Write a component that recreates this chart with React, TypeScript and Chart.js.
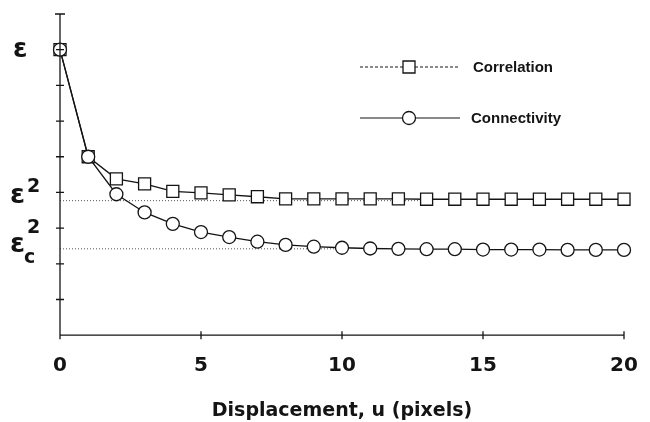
import React, { useEffect, useRef } from "react";
import { Chart, registerables } from "chart.js";

Chart.register(...registerables);

const displacement = [0, 1, 2, 3, 4, 5, 6, 7, 8, 9, 10, 11, 12, 13, 14, 15, 16, 17, 18, 19, 20];
const correlation = [8.0, 5.0, 4.38, 4.24, 4.03, 3.99, 3.93, 3.88, 3.82, 3.82, 3.82, 3.82, 3.82, 3.81, 3.81, 3.81, 3.81, 3.81, 3.81, 3.81, 3.81];
const connectivity = [8.0, 5.0, 3.95, 3.44, 3.12, 2.89, 2.75, 2.62, 2.53, 2.48, 2.45, 2.43, 2.42, 2.41, 2.41, 2.40, 2.40, 2.40, 2.39, 2.39, 2.39];
const refLevels = [3.77, 2.42]; // eps^2, eps_c^2
const refEnds = [13, 10];
const xTicks = [0, 5, 10, 15, 20];
const yTicks = [1, 2, 3, 4, 5, 6, 7, 8, 9];
const epsLevel = 8;
const seriesNames = ["Correlation", "Connectivity"];
const xTitle = "Displacement, u (pixels)";

const INK = "#141414";

const axesPlugin = {
  id: "axesPlugin",
  afterDraw(chart: any) {
    const { ctx, chartArea } = chart;
    const xs = chart.scales.x;
    const ys = chart.scales.y;
    const x0 = xs.getPixelForValue(0);
    const y0 = ys.getPixelForValue(0);
    ctx.save();
    ctx.strokeStyle = INK;
    ctx.lineWidth = 1.3;
    ctx.beginPath();
    ctx.moveTo(x0, y0);
    ctx.lineTo(x0, ys.getPixelForValue(9));
    ctx.moveTo(x0, y0);
    ctx.lineTo(xs.getPixelForValue(20), y0);
    yTicks.forEach((v) => {
      const py = ys.getPixelForValue(v);
      const h = v === 9 ? 5 : 4;
      ctx.moveTo(x0 - h, py);
      ctx.lineTo(x0 + h, py);
    });
    xTicks.forEach((v) => {
      const px = xs.getPixelForValue(v);
      ctx.moveTo(px, y0 - 4);
      ctx.lineTo(px, y0 + 4);
    });
    ctx.stroke();

    // y labels
    ctx.fillStyle = INK;
    ctx.textAlign = "left";
    ctx.textBaseline = "alphabetic";
    ctx.font = "bold 26px 'DejaVu Sans'";
    ctx.fillText("ε", 13, ys.getPixelForValue(epsLevel) + 7);

    const l1 = ys.getPixelForValue(refLevels[0]);
    ctx.font = "bold 27px 'DejaVu Sans'";
    ctx.fillText("ε", 10, l1 + 2);
    ctx.font = "bold 19px 'DejaVu Sans'";
    ctx.fillText("2", 27, l1 - 9);

    const l2 = ys.getPixelForValue(refLevels[1]);
    ctx.font = "bold 27px 'DejaVu Sans'";
    ctx.fillText("ε", 10, l2 + 3);
    ctx.font = "bold 19px 'DejaVu Sans'";
    ctx.fillText("2", 27, l2 - 16);
    ctx.fillText("c", 24, l2 + 14);

    // legend
    const lx1 = chartArea.left + 300;
    const lx2 = chartArea.left + 400;
    const mx = (lx1 + lx2) / 2 - 1;
    const rows = [chartArea.top + 53, chartArea.top + 104];
    ctx.lineWidth = 1.1;
    ctx.setLineDash([3, 2]);
    ctx.beginPath();
    ctx.moveTo(lx1, rows[0]);
    ctx.lineTo(lx2, rows[0]);
    ctx.stroke();
    ctx.setLineDash([]);
    ctx.beginPath();
    ctx.moveTo(lx1, rows[1]);
    ctx.lineTo(lx2, rows[1]);
    ctx.stroke();
    ctx.lineWidth = 1.3;
    ctx.fillStyle = "#fff";
    ctx.beginPath();
    ctx.rect(mx - 6, rows[0] - 6, 12, 12);
    ctx.fill();
    ctx.stroke();
    ctx.beginPath();
    ctx.arc(mx, rows[1], 6.5, 0, Math.PI * 2);
    ctx.fill();
    ctx.stroke();
    ctx.fillStyle = INK;
    ctx.font = "bold 15px 'Liberation Sans'";
    ctx.textBaseline = "middle";
    ctx.fillText(seriesNames[0], lx2 + 13, rows[0] + 1);
    ctx.fillText(seriesNames[1], lx2 + 11, rows[1] + 1);
    ctx.restore();
  },
};

export default function App() {
  const ref = useRef<HTMLCanvasElement>(null);
  useEffect(() => {
    if (!ref.current) return;
    const pts = (arr: number[]) => arr.map((y, i) => ({ x: displacement[i], y }));
    const chart = new Chart(ref.current, {
      type: "line",
      data: {
        datasets: [
          {
            label: seriesNames[1],
            data: pts(connectivity),
            borderColor: INK,
            borderWidth: 1.3,
            pointStyle: "circle",
            pointRadius: 6.5,
            pointBackgroundColor: "#fff",
            pointBorderColor: INK,
            pointBorderWidth: 1.3,
            tension: 0,
            clip: false,
            order: 0,
          },
          {
            label: seriesNames[0],
            data: pts(correlation),
            borderColor: INK,
            borderWidth: 1.3,
            pointStyle: "rect",
            pointRadius: 8.5,
            pointBackgroundColor: "#fff",
            pointBorderColor: INK,
            pointBorderWidth: 1.3,
            tension: 0,
            clip: false,
            order: 1,
          },
          ...refLevels.map((lv, i) => ({
            label: "ref" + i,
            data: [
              { x: 0, y: lv },
              { x: refEnds[i], y: lv },
            ],
            borderColor: "#555",
            borderWidth: 1,
            borderDash: [1, 2],
            pointRadius: 0,
            order: 2,
          })),
        ],
      },
      options: {
        animation: false,
        responsive: false,
        events: [],
        layout: { padding: { left: 60, right: 26, top: 14, bottom: 0 } },
        plugins: { legend: { display: false }, tooltip: { enabled: false } },
        scales: {
          x: {
            type: "linear",
            min: 0,
            max: 20,
            grid: { display: false, drawTicks: false },
            border: { display: false },
            afterFit: (scale: any) => {
              scale.paddingLeft = 0;
              scale.paddingRight = 0;
            },
            ticks: {
              stepSize: 5,
              padding: 19,
              color: INK,
              font: { family: "'DejaVu Sans'", size: 20, weight: "bold" },
            },
            title: {
              display: true,
              text: xTitle,
              color: INK,
              padding: { top: 2, bottom: 0 },
              font: { family: "'DejaVu Sans'", size: 19, weight: "bold" },
            },
          },
          y: {
            type: "linear",
            min: 0,
            max: 9,
            display: false,
          },
        },
      },
      plugins: [axesPlugin],
    } as any);
    return () => chart.destroy();
  }, []);
  return (
    <div style={{ position: "absolute", left: 0, top: 0, width: 650, height: 422, background: "#fff" }}>
      <canvas ref={ref} width={650} height={422} />
    </div>
  );
}
